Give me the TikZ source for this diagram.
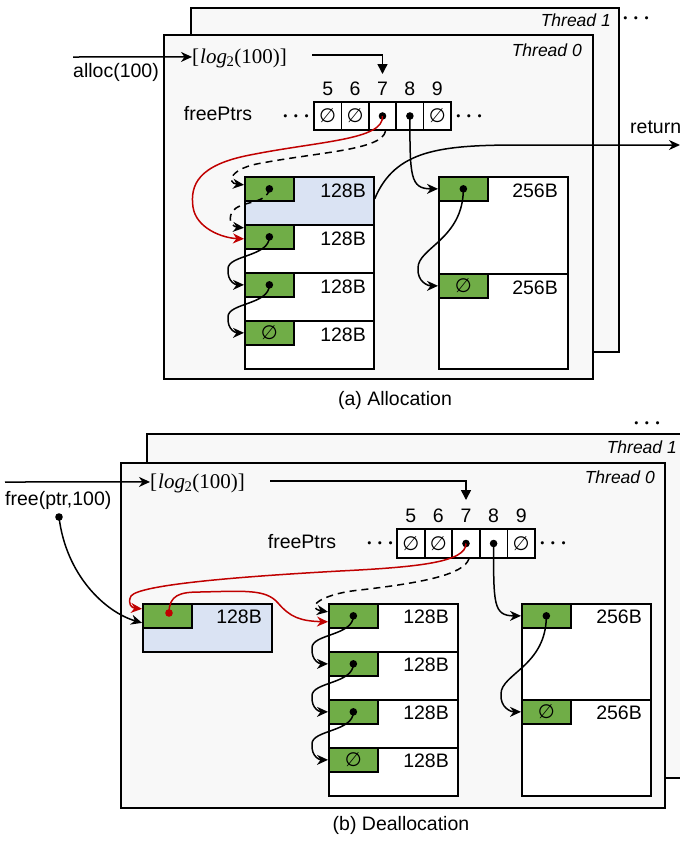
\documentclass[tikz,border=0pt]{standalone}
\usepackage[no-math]{fontspec}
\setmainfont{Liberation Sans}
\newfontfamily\symfont{DejaVu Sans}
\newfontfamily\serfont{Liberation Serif}
\usetikzlibrary{arrows.meta,calc}
\definecolor{bgray}{HTML}{F8F8F8}
\definecolor{grn}{HTML}{70AD47}
\definecolor{blu}{HTML}{DAE3F3}
\definecolor{redc}{HTML}{C00000}
\newcommand{\nul}{{\symfont\fontsize{19.5}{19.5}\selectfont ∅}}
\newcommand{\logt}{{\serfont\fontsize{21}{24}\selectfont [\kern1pt\textit{log}\kern-0.5pt\textsubscript{2}(100)]}}
\newcommand{\schain}[2]{\draw[ptr] (#1) .. controls ($(#1)+(0,20)$) and ($(#2)+(-16,-30)$) .. ($(#2)+(-16,-16)$) .. controls ($(#2)+(-17,-3)$) and ($(#2)+(-8,0)$) .. (#2);}
\tikzset{
  thread/.style={draw, line width=2pt, fill=bgray, anchor=north west, inner sep=0},
  cellbox/.style={draw, line width=1.7pt, minimum width=27.5pt, minimum height=28.5pt, inner sep=0, fill=white},
  rowbox/.style={draw, line width=1.7pt, minimum width=129pt, inner sep=0, anchor=north west, fill=white},
  grnbox/.style={draw, line width=1.7pt, fill=grn, minimum width=49pt, minimum height=24pt, inner sep=0, anchor=north west},
  ptr/.style={line width=1.5pt, -{Stealth[length=11pt,width=10pt,inset=3.5pt]}},
  dsh/.style={dash pattern=on 7pt off 5pt},
  txt/.style={font=\fontsize{19.5}{22}\selectfont, inner sep=0},
  tlbl/.style={font=\fontsize{17.5}{20}\selectfont\itshape, inner sep=0},
  dotsn/.style={inner sep=0, anchor=base, font=\fontsize{20}{22}\selectfont},
  pdot/.style={radius=3.8pt}
}
\begin{document}
\begin{tikzpicture}[x=1pt,y=-1pt]
\useasboundingbox (0,0) rectangle (680,841);
% ================= (a) Allocation =================
\node[thread, minimum width=428pt, minimum height=344pt] (t1a) at (190,7) {};
\node[tlbl, anchor=base east] (t1al) at (611,26) {Thread 1};
\node[dotsn] (moa) at (636,23) {{\boldmath$\cdots$}};
\node[thread, minimum width=429pt, minimum height=344pt] (t0a) at (163,34) {};
\node[tlbl, anchor=base east] (t0al) at (582,56) {Thread 0};

\node[txt, anchor=base west] (loga) at (192,63) {\logt};
\coordinate (ina) at (73,57);
\draw[ptr] (ina) -- ($(loga.west)+(0,-1)$);
\node[txt, anchor=base west] (alloc) at (73,77) {alloc(100)};

\node[cellbox] (c5a) at (327.7,116) {\nul};
\node[cellbox] (c6a) at (355.1,116) {\nul};
\node[cellbox] (c7a) at (382.5,116) {};
\node[cellbox] (c8a) at (409.9,116) {};
\node[cellbox] (c9a) at (437.3,116) {\nul};
\foreach \n/\x in {5/327.7,6/355.1,7/382.5,8/409.9,9/437.3}
  \node[txt, anchor=base] (n\n a) at (\x,95) {\n};
\coordinate (ta) at (382.5,74);
\coordinate (la0) at (312,55);
\draw[line width=1.5pt, -{Triangle[length=10pt,width=10pt]}] (la0) -| (ta);
\node[txt, anchor=base] (fpa) at (218,120) {freePtrs};
\node[dotsn] (dla) at (296,121) {{\boldmath$\cdots$}};
\node[dotsn] (dra) at (469,121) {{\boldmath$\cdots$}};

% 128B column
\node[rowbox, fill=blu, minimum height=48pt] (ra1) at (244,176) {};
\node[rowbox, minimum height=48pt] (ra2) at (244,224) {};
\node[rowbox, minimum height=48pt] (ra3) at (244,272) {};
\node[rowbox, minimum height=48pt] (ra4) at (244,320) {};
\node[grnbox] (ga1) at (244,176) {};
\node[grnbox] (ga2) at (244,224) {};
\node[grnbox] (ga3) at (244,272) {};
\node[grnbox] (ga4) at (244,320) {\nul};
\foreach \y [count=\k] in {197,245,293,341}
  \node[txt, anchor=base east] (la\k) at (366,\y) {128B};
% 256B column
\node[rowbox, minimum height=97pt] (rb1) at (438,176) {};
\node[rowbox, minimum height=95pt] (rb2) at (438,273) {};
\node[grnbox] (gb1) at (438,176) {};
\node[grnbox] (gb2) at (438,273) {\nul};
\node[txt, anchor=base east] (lb1) at (558,197) {256B};
\node[txt, anchor=base east] (lb2) at (558,294) {256B};

% pointer dots
\foreach \p in {c7a,c8a,ga1,ga2,ga3,gb1} \fill (\p.center) circle[pdot];

% arrows (a)
\draw[ptr] (c8a.center) .. controls +(0,60) and +(-28,0) .. (gb1.west);
\draw[ptr] (gb1.center) .. controls +(0,50) and ($(gb2.west)+(-20,-38)$) .. ($(gb2.west)+(-20,-18)$) .. controls ($(gb2.west)+(-21,-4)$) and ($(gb2.west)+(-10,0)$) .. (gb2.west);
\schain{ga2.center}{ga3.west}
\schain{ga3.center}{ga4.west}
\draw[ptr, redc] (c7a.center) .. controls (384,140) and (320,141) .. (250,155) .. controls (198,165) and (190,185) .. (193,207) .. controls (196,228) and (222,238) .. ($(ga2.west)+(0,2)$);
\draw[ptr, dsh] ($(c7a.south)+(3,0)$) .. controls (382,150) and (320,152) .. (262,163) .. controls (230,168) and (226,183) .. ($(ga1.west)+(0,-4)$);
\draw[ptr, dsh] (ga1.center) .. controls (267,205) and (240,200) .. (232,212) .. controls (227,222) and (234,227) .. ($(ga2.west)+(0,-9)$);
\coordinate (reta) at (680,145);
\draw[ptr] ($(ra1.east)+(0,-2)$) .. controls (395,150) and (440,145) .. (520,145) -- (reta);
\node[txt, anchor=base west] (retl) at (630,133) {return};
\node[txt, anchor=base] (capa) at (395,405) {(a) Allocation};

% ================= (b) Deallocation =================
\fill[bgray] (147,434) rectangle (680,778);
\draw[line width=2pt] (680,434) -- (147,434) -- (147,778) -- (680,778);
\node[tlbl, anchor=base east] (t1bl) at (677,453) {Thread 1};
\node[dotsn] (mob) at (647,428) {{\boldmath$\cdots$}};
\node[thread, minimum width=544pt, minimum height=345pt] (t0b) at (120,462) {};
\node[tlbl, anchor=base east] (t0bl) at (655,483) {Thread 0};

\node[txt, anchor=base west] (logb) at (150,488) {\logt};
\coordinate (inb) at (5,482);
\draw[ptr] (inb) -- ($(logb.west)+(0,-1)$);
\node[txt, anchor=base west] (freel) at (5,505) {free(ptr,100)};

\node[cellbox] (c5b) at (410.8,543.5) {\nul};
\node[cellbox] (c6b) at (438.4,543.5) {\nul};
\node[cellbox] (c7b) at (466,543.5) {};
\node[cellbox] (c8b) at (493.6,543.5) {};
\node[cellbox] (c9b) at (521.2,543.5) {\nul};
\foreach \n/\x in {5/410.8,6/438.4,7/466,8/493.6,9/521.2}
  \node[txt, anchor=base] (n\n b) at (\x,522) {\n};
\coordinate (tb) at (466,500);
\coordinate (lb0) at (270,481);
\draw[line width=1.5pt, -{Triangle[length=10pt,width=10pt]}] (lb0) -| (tb);
\node[txt, anchor=base] (fpb) at (302,548) {freePtrs};
\node[dotsn] (dlb) at (380,548) {{\boldmath$\cdots$}};
\node[dotsn] (drb) at (553,548) {{\boldmath$\cdots$}};

% freed block
\node[rowbox, fill=blu, minimum height=48pt] (blk) at (142,603) {};
\node[grnbox] (gk) at (142,603) {};
\node[txt, anchor=base east] (lk) at (262,623) {128B};
% 128B column
\node[rowbox, minimum height=48pt] (rc1) at (328,603) {};
\node[rowbox, minimum height=48pt] (rc2) at (328,651) {};
\node[rowbox, minimum height=48pt] (rc3) at (328,699) {};
\node[rowbox, minimum height=48pt] (rc4) at (328,747) {};
\node[grnbox] (gc1) at (328,603) {};
\node[grnbox] (gc2) at (328,651) {};
\node[grnbox] (gc3) at (328,699) {};
\node[grnbox] (gc4) at (328,747) {\nul};
\foreach \y [count=\k] in {623,671,719,767}
  \node[txt, anchor=base east] (lc\k) at (449,\y) {128B};
% 256B column
\node[rowbox, minimum height=96pt] (rd1) at (521,603) {};
\node[rowbox, minimum height=96pt] (rd2) at (521,699) {};
\node[grnbox] (gd1) at (521,603) {};
\node[grnbox] (gd2) at (521,699) {\nul};
\node[txt, anchor=base east] (ld1) at (642,623) {256B};
\node[txt, anchor=base east] (ld2) at (642,719) {256B};

\foreach \p in {c7b,c8b,gc1,gc2,gc3,gd1} \fill (\p.center) circle[pdot];
\coordinate (fdot) at (59,517);
\fill (fdot) circle[pdot];
\coordinate (rdot) at (169,613);
\fill[redc] (rdot) circle[pdot];

% arrows (b)
\draw[ptr] (fdot) .. controls (66,575) and (105,612) .. ($(gk.west)+(0,7)$);
\draw[ptr] (c8b.center) .. controls +(0,60) and +(-28,0) .. (gd1.west);
\draw[ptr] (gd1.center) .. controls +(0,50) and ($(gd2.west)+(-20,-38)$) .. ($(gd2.west)+(-20,-18)$) .. controls ($(gd2.west)+(-21,-4)$) and ($(gd2.west)+(-10,0)$) .. (gd2.west);
\schain{gc1.center}{gc2.west}
\schain{gc2.center}{gc3.west}
\schain{gc3.center}{gc4.west}
\draw[ptr, redc] (c7b.center) .. controls (466,562) and (420,567) .. (340,571) .. controls (250,576) and (140,584) .. (131,596) .. controls (127,604) and (132,608) .. ($(gk.west)+(0,-7)$);
\draw[ptr, redc] (rdot) .. controls (169,595) and (180,592) .. (200,592) .. controls (245,591) and (266,589) .. (278,603) .. controls (290,617) and (300,621) .. ($(gc1.west)+(0,6)$);
\draw[ptr, dsh] ($(c7b.south)+(3,0)$) .. controls (464,575) and (420,583) .. (360,590) .. controls (320,594) and (305,608) .. ($(gc1.west)+(0,-4)$);
\node[txt, anchor=base] (capb) at (401,830) {(b) Deallocation};
\end{tikzpicture}
\end{document}
